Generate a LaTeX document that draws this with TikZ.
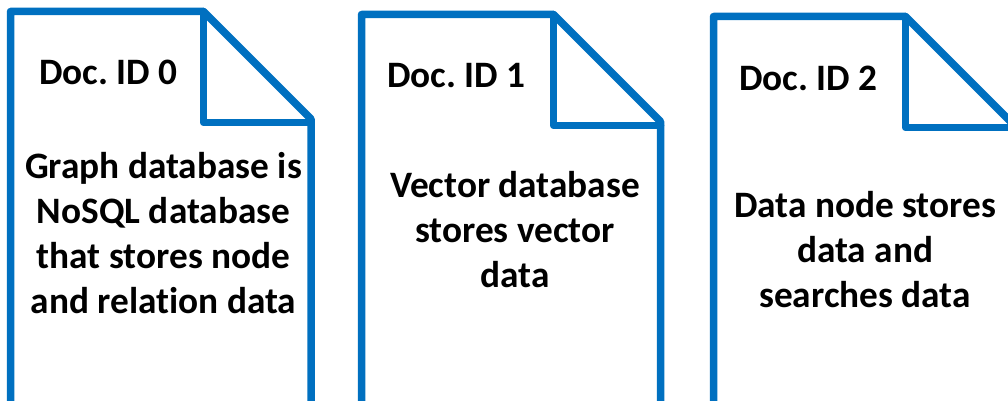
\documentclass[tikz,border=0pt]{standalone}
\usepackage{fontspec}
\setmainfont{Carlito}[Ligatures=NoCommon]
\definecolor{docblue}{RGB}{0,112,192}
\frenchspacing
\begin{document}
\begin{tikzpicture}[x=1pt,y=-1pt,
  docline/.style={draw=docblue,line width=7.5pt,line join=round,line cap=round},
  doctext/.style={font=\fontsize{37.3}{45}\selectfont\bfseries\frenchspacing,align=center,anchor=base,inner sep=0pt}]
\useasboundingbox (0,0) rectangle (1008,401);
\clip (0,0) rectangle (1008,401);
% Document 0
\coordinate (d0) at (10.5,11.5);
\draw[docline] ([yshift=-420pt]d0) -- (d0) -- ++(193,0) coordinate (f0) -- ++(107.5,107.5) -- ++(0,320);
\draw[docline] (f0) -- ++(0,111) -- ++(107.5,0);
% Document 1
\coordinate (d1) at (361.5,14.5);
\draw[docline] ([yshift=-420pt]d1) -- (d1) -- ++(192,0) coordinate (f1) -- ++(107,107) -- ++(0,320);
\draw[docline] (f1) -- ++(0,111) -- ++(107,0);
% Document 2
\coordinate (d2) at (713.5,16.5);
\draw[docline] ([yshift=-420pt]d2) -- (d2) -- ++(192,0) coordinate (f2) -- ++(107,107) -- ++(0,320);
\draw[docline] (f2) -- ++(0,111) -- ++(107,0);
% Texts
\node[doctext] (t0) at (108.5,85) {Doc. ID 0};
\node[doctext] (b0) at (163.5,313) {Graph database is\\NoSQL database\\that stores node\\and relation data};
\node[doctext] (t1) at (456.5,88) {Doc. ID 1};
\node[doctext] (b1) at (515,287) {Vector database\\stores vector\\data};
\node[doctext] (t2) at (808.5,91) {Doc. ID 2};
\node[doctext] (b2) at (865,307) {Data node stores\\data and\\searches data};
\end{tikzpicture}
\end{document}
